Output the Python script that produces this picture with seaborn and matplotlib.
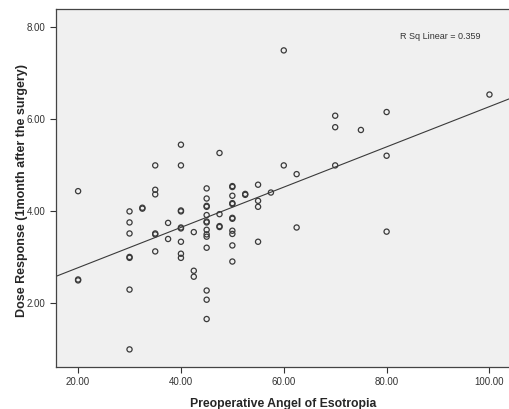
import matplotlib
matplotlib.use("Agg")
import matplotlib.pyplot as plt
import pandas as pd
import seaborn as sns

# values (bold circles = overlapping points)
angle = [20, 20, 20,
         30, 30, 30, 30, 30, 30, 30,
         32.5, 32.5,
         35, 35, 35, 35, 35, 35,
         37.5, 37.5,
         40, 40, 40, 40, 40, 40, 40, 40, 40,
         42.5, 42.5, 42.5,
         45, 45, 45, 45, 45, 45, 45, 45, 45, 45, 45, 45, 45, 45,
         47.5, 47.5, 47.5, 47.5,
         50, 50, 50, 50, 50, 50, 50, 50, 50, 50, 50,
         52.5, 52.5,
         55, 55, 55, 55,
         57.5,
         60, 60,
         62.5, 62.5,
         70, 70, 70,
         75,
         80, 80, 80,
         100]
dose = [4.43, 2.49, 2.51,
        3.99, 3.75, 3.51, 3.00, 2.98, 2.29, 0.99,
        4.05, 4.07,
        4.99, 4.46, 4.36, 3.49, 3.51, 3.12,
        3.74, 3.39,
        5.44, 4.99, 3.99, 4.01, 3.62, 3.64, 3.33, 3.07, 2.98,
        3.54, 2.70, 2.57,
        4.49, 4.27, 4.09, 4.11, 3.91, 3.75, 3.77, 3.59, 3.49, 3.44, 3.20, 2.27, 2.07, 1.65,
        5.26, 3.93, 3.65, 3.67,
        4.54, 4.52, 4.33, 4.15, 4.17, 3.83, 3.85, 3.57, 3.50, 3.25, 2.90,
        4.35, 4.37,
        4.57, 4.22, 4.09, 3.33,
        4.40,
        7.49, 4.99,
        4.80, 3.64,
        6.07, 5.82, 4.99,
        5.76,
        6.15, 5.20, 3.55,
        6.53]
x_ticks = [20, 40, 60, 80, 100]
y_ticks = [2, 4, 6, 8]
r_sq_label = "R Sq Linear = 0.359"

df = pd.DataFrame({"Angle": angle, "Dose": dose})

sns.set_style("ticks")
plt.rcParams["font.family"] = ["Liberation Sans", "DejaVu Sans"]

fig = plt.figure(figsize=(5.09, 4.09), dpi=100)
ax = fig.add_axes([0.110, 0.103, 0.892, 0.875])
ax.set_facecolor("#f0f0f0")
ax.set_xlim(15.7, 104.0)
ax.set_ylim(0.61, 8.39)

sns.regplot(x="Angle", y="Dose", data=df, ax=ax, ci=None, truncate=False,
            scatter_kws={"s": 14, "facecolors": "none", "edgecolors": "#3a3a3a",
                         "linewidths": 0.9, "alpha": 1},
            line_kws={"color": "#3a3a3a", "linewidth": 0.8})

ax.set_xlim(15.7, 104.0)
ax.set_ylim(0.61, 8.39)
ax.set_xticks(x_ticks)
ax.set_yticks(y_ticks)
ax.set_xticklabels([f"{v:.2f}" for v in x_ticks])
ax.set_yticklabels([f"{v:.2f}" for v in y_ticks])
ax.tick_params(axis="both", labelsize=7, colors="#333333", length=4, width=0.8)

for side in ["left", "bottom", "top"]:
    ax.spines[side].set_color("#444444")
    ax.spines[side].set_linewidth(0.9)
ax.spines["right"].set_visible(False)

ax.text(0.758, 0.922, r_sq_label, transform=ax.transAxes, fontsize=6.5,
        color="#333333", va="center", ha="left")

ax.set_xlabel("Preoperative Angel of Esotropia", fontsize=8.8, fontweight="bold",
              labelpad=8)
ax.set_ylabel("Dose Response (1month after the surgery)", fontsize=9.0,
              fontweight="bold")
ax.yaxis.set_label_coords(-0.062, 0.492)

fig.savefig("out.png", dpi=100)
